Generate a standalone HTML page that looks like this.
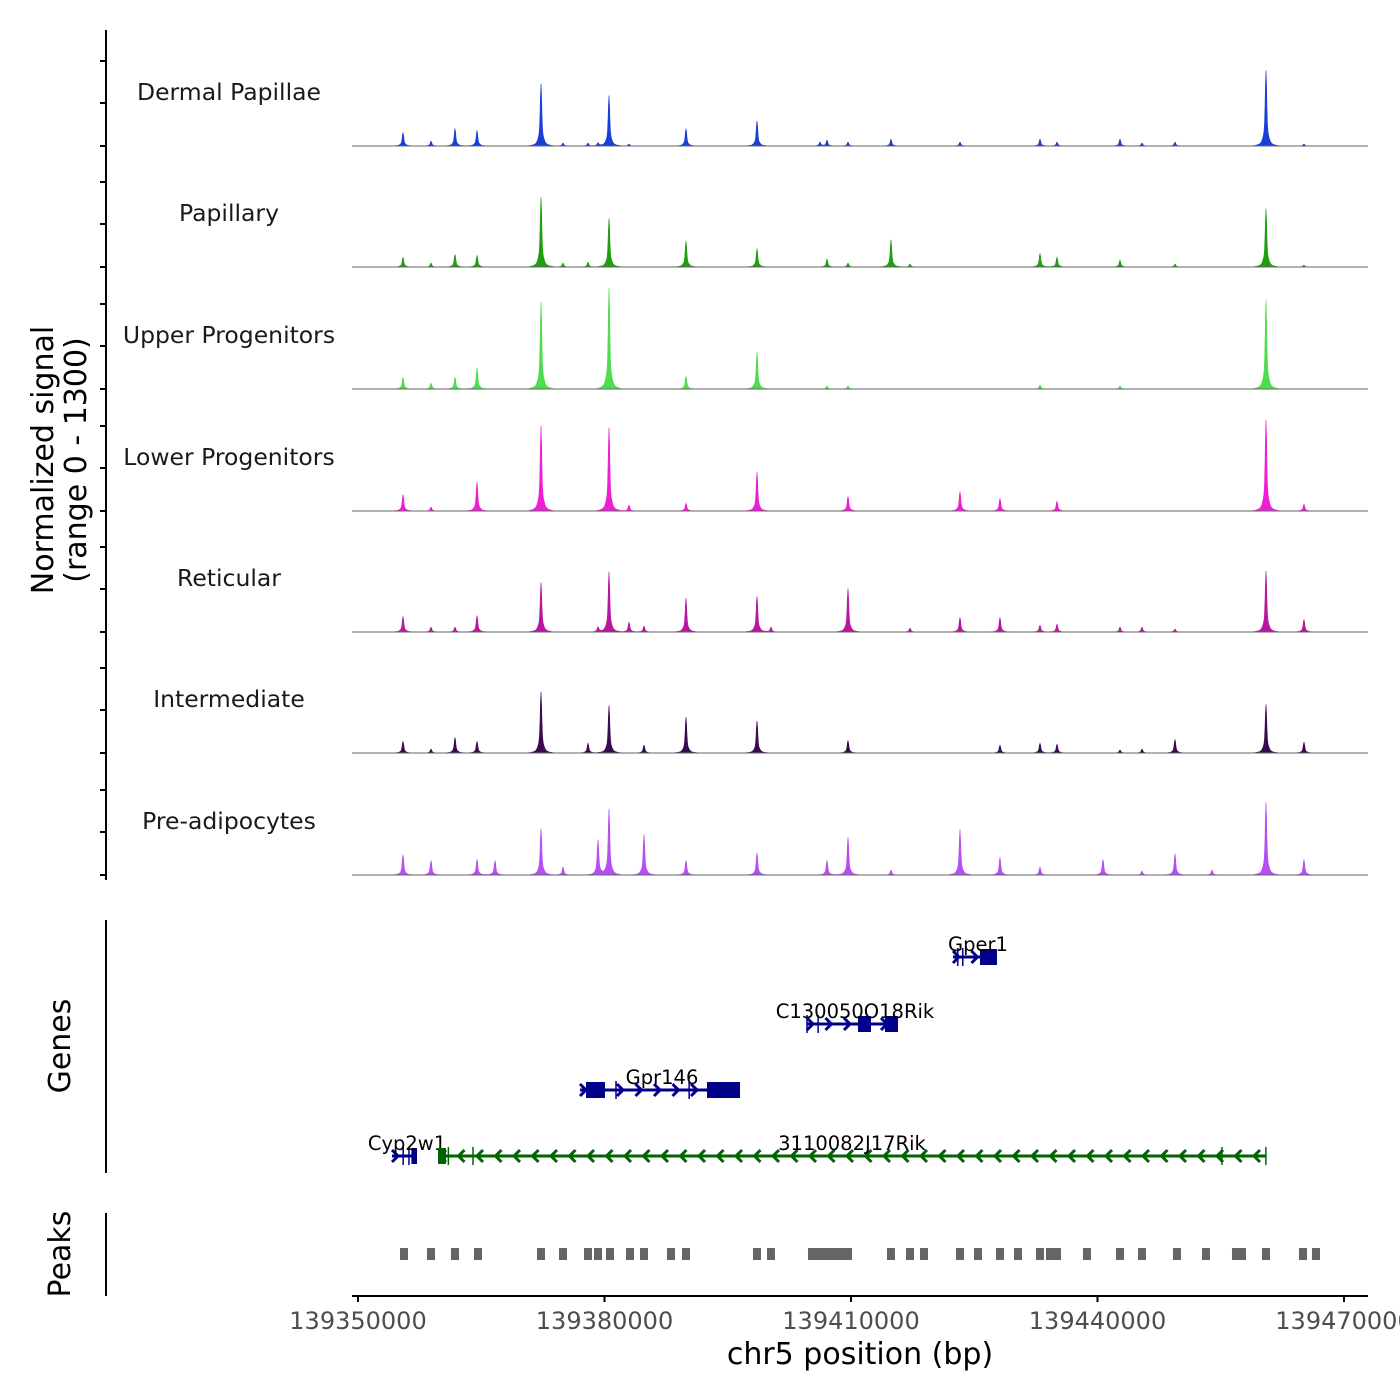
<!DOCTYPE html>
<html><head><meta charset="utf-8"><style>
html,body{margin:0;padding:0;background:#fff;}
svg{display:block;font-family:"DejaVu Sans","Liberation Sans",sans-serif;}
</style></head><body>
<svg id="chart" width="1400" height="1400" viewBox="0 0 1400 1400" xmlns="http://www.w3.org/2000/svg">
<g id="tracks"></g>
<g id="axes"></g>
<g id="genes"></g>
<g id="peaks"></g>
</svg>
<script>
// ---- data ----
const trackNames = ["Dermal Papillae","Papillary","Upper Progenitors","Lower Progenitors","Reticular","Intermediate","Pre-adipocytes"];
const trackColors = ["#1a3fd6","#1e9e10","#4fdc4f","#ee1ed6","#b8169e","#3a0a4e","#b64ff2"];
// peak centers (bp)
const peakPos = [139355477,139358884,139361805,139364482,139366673,139372271,139374949,139377991,139379208,139380547,139382981,139384806,139389918,139398558,139400262,139406225,139407077,139409633,139414866,139417178,139423263,139428131,139432999,139435068,139440667,139442735,139445413,139449429,139453932,139460504,139465128];
// heights (normalized signal) aligned with peakPos
const dp  = [140,50,180,160,0,640,30,30,30,520,20,0,180,260,0,40,60,40,70,0,40,0,70,40,0,70,30,40,0,780,20];
const pap = [100,40,130,120,0,720,40,50,0,500,0,0,270,190,0,0,80,40,280,30,0,0,140,100,0,70,0,30,0,600,20];
const upp = [120,60,120,220,0,900,0,0,0,1040,0,0,130,380,0,0,30,30,0,0,0,0,40,0,0,30,0,0,0,920,0];
const low = [170,40,0,300,0,880,0,0,0,860,60,0,80,400,0,0,0,150,0,0,200,130,0,100,0,0,0,0,0,940,70];
const ret = [160,50,50,170,0,510,0,0,50,620,100,60,350,370,50,0,0,450,0,40,150,150,70,80,0,50,50,30,0,630,130];
const itm = [120,40,160,120,0,630,0,100,0,490,0,80,370,330,0,0,0,130,0,0,0,80,100,90,0,30,40,140,0,500,110];
const pre = [210,150,0,160,150,480,80,0,360,680,0,420,150,230,0,0,150,390,50,0,470,180,80,0,160,0,40,220,50,750,160];
const trackValues = [dp,pap,upp,low,ret,itm,pre];
// called peaks (bp)
const peakCalls = [139355598,139358884,139361805,139364604,139372271,139374949,139377991,139379208,139380668,139383102,139384806,139388092,139389918,139398558,139400262,139405252,139406104,139406956,139407808,139408659,139409633,139414866,139417178,139418882,139423263,139425454,139428131,139430322,139432999,139434216,139435068,139438719,139442735,139445413,139449672,139453202,139456853,139457583,139460504,139465007,139466589];
// genes
const genes = [
 {name:"Gper1",start:139372412,end:139377766,row:0,strand:"+",color:"#00008b",exons:[[139373000,139373010],[139373600,139373610],[139375697,139377766]],label:139375454},
 {name:"C130050O18Rik",start:139354643,end:139365718,row:1,strand:"+",color:"#00008b",exons:[[139354643,139354653],[139356000,139356010],[139360850,139362432],[139364136,139365718]],label:139360485},
 {name:"Gpr146",start:139327017,end:139346489,row:2,strand:"+",color:"#00008b",exons:[[139327748,139330060],[139331400,139331410],[139340300,139340310],[139342473,139346489]],label:139336997},
 {name:"Cyp2w1",start:139304138,end:139307180,row:3,strand:"+",color:"#00008b",exons:[[139305500,139305510],[139306200,139306210],[139306500,139307180]],label:139305963},
 {name:"3110082J17Rik",start:139309736,end:139410504,row:3,strand:"-",color:"#006400",exons:[[139309736,139310710],[139311000,139311010],[139313996,139314006],[139405149,139405159],[139410494,139410504]],label:139360120}
];
const geneOffset = 50000; // gene coords stored relative; add offset
const xTicks = [139350000,139380000,139410000,139440000,139470000];

// ---- scales ----
const X0=358, KX=0.0082167, B0=139350000;
const x = bp => X0 + (bp-B0)*KX;
const baselines=[146,267,389,511,632,753,875];
const yMax=1210, trackH=121;
const NS="http://www.w3.org/2000/svg";
function mk(tag,attrs,parent){const e=document.createElementNS(NS,tag);for(const k in attrs)e.setAttribute(k,attrs[k]);parent.appendChild(e);return e;}
const gT=document.getElementById('tracks'), gA=document.getElementById('axes'), gG=document.getElementById('genes'), gP=document.getElementById('peaks');

// ---- signal tracks ----
trackNames.forEach((nm,i)=>{
  const b=baselines[i], vals=trackValues[i];
  const centers=peakPos.map(x);
  let d="M352,"+b;
  for(let px=352;px<=1368;px+=0.5){
    let v=0;
    centers.forEach((c,j)=>{const dd=px-c;v+=vals[j]*(0.72*Math.exp(-(dd/1.0)*(dd/1.0))+0.2*Math.exp(-(dd/3)*(dd/3))+0.05*Math.exp(-(dd/8)*(dd/8)));});
    const h=Math.min(v,yMax)/yMax*trackH;
    d+=" L"+px+","+(b-h).toFixed(2);
  }
  d+=" L1368,"+b+" Z";
  const p=mk('path',{d:d,fill:trackColors[i],stroke:trackColors[i],'stroke-width':0.6},gT);
  
  
  const l=mk('line',{x1:352,x2:1368,y1:b,y2:b,stroke:'#666','stroke-width':1},gT);
  
  
  const t=mk('text',{x:229,y:b-46,'text-anchor':'middle','font-size':23.5,fill:'#1a1a1a'},gT);
  t.textContent=nm;
  
  
  [0,43,85].forEach(o=>{
    const tk=mk('line',{x1:100,x2:106,y1:b-o,y2:b-o,stroke:'#000','stroke-width':2},gA);
    
    
  });
});

// ---- axes ----
function line(a,nm){const l=mk('line',Object.assign({stroke:'#000','stroke-width':2},a),gA);return l;}
line({x1:106,x2:106,y1:30,y2:880},'y-axis-line');
line({x1:106,x2:106,y1:920,y2:1173},'genes-axis-line');
line({x1:106,x2:106,y1:1213,y2:1296},'peaks-axis-line');
line({x1:352,x2:1368,y1:1296,y2:1296},'x-axis-line');
function txt(s,a,nm,parent){const t=mk('text',a,parent||gA);t.textContent=s;return t;}
xTicks.forEach(v=>{
  line({x1:x(v),x2:x(v),y1:1296,y2:1302},'x-tick');
  txt(String(v),{x:x(v),y:1329,'text-anchor':'middle','font-size':24,fill:'#4d4d4d'},'x-tick-label');
});
txt('chr5 position (bp)',{x:860,y:1364,'text-anchor':'middle','font-size':30,fill:'#000'},'x-axis-title');
txt('Normalized signal',{x:0,y:0,'text-anchor':'middle','font-size':30,fill:'#000',transform:'translate(53,460) rotate(-90)'},'y-axis-title');
txt('(range 0 - 1300)',{x:0,y:0,'text-anchor':'middle','font-size':30,fill:'#000',transform:'translate(86,460) rotate(-90)'},'y-axis-subtitle');
txt('Genes',{x:0,y:0,'text-anchor':'middle','font-size':30,fill:'#000',transform:'translate(70,1046) rotate(-90)'},'genes-axis-title');
txt('Peaks',{x:0,y:0,'text-anchor':'middle','font-size':30,fill:'#000',transform:'translate(70,1254) rotate(-90)'},'peaks-axis-title');

// ---- genes ----
const rowY=[957,1024,1090,1156];
genes.forEach(g=>{
  const y=rowY[g.row], x1=x(g.start+geneOffset), x2=x(g.end+geneOffset);
  const grp=mk('g',{},gG);
  
  
  mk('line',{x1:x1,x2:x2,y1:y,y2:y,stroke:g.color,'stroke-width':3},grp);
  for(let px=x1+4;px<x2-3;px+=18.5){
    const dir=g.strand==='+'?1:-1;
    mk('polyline',{points:`${px-4*dir},${y-6} ${px+2*dir},${y} ${px-4*dir},${y+6}`,fill:'none',stroke:g.color,'stroke-width':3},grp);
  }
  g.exons.forEach(e=>{
    const a=x(e[0]+geneOffset),b=x(e[1]+geneOffset);
    if(b-a<4) mk('line',{x1:a,x2:a,y1:y-9,y2:y+9,stroke:g.color,'stroke-width':1.5},grp);
    else mk('rect',{x:a,y:y-8,width:b-a,height:16,fill:g.color},grp);
  });
  const t=mk('text',{x:x(g.label+geneOffset),y:y-6,'text-anchor':'middle','font-size':19.5,fill:'#000'},grp);
  t.textContent=g.name;
});

// ---- peaks ----
peakCalls.forEach(v=>{
  const r=mk('rect',{x:x(v)-4,y:1248,width:8,height:12,fill:'#666'},gP);
  
  
});
</script>
</body></html>
